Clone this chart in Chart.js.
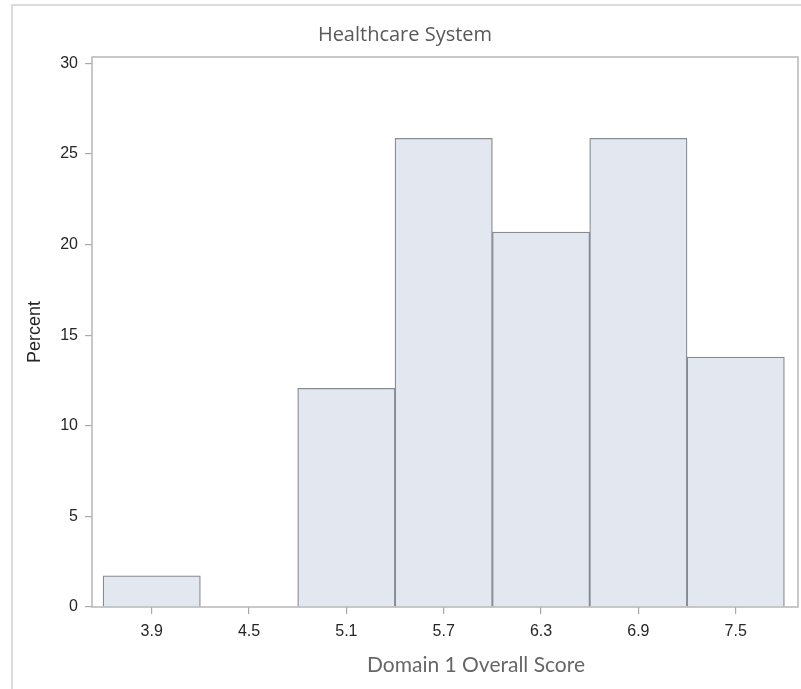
<!DOCTYPE html>
<html>
<head>
<meta charset="utf-8">
<script src="https://cdn.jsdelivr.net/npm/chart.js@4/dist/chart.umd.min.js"></script>
<style>
  html, body { margin: 0; padding: 0; background: #ffffff; }
  #wrap { position: relative; width: 801px; height: 689px; }
  #frame {
    position: absolute; left: 11px; top: 4px; right: 0; bottom: 0;
    border-top: 2px solid #dcdcdc; border-left: 2px solid #dcdcdc;
  }
  #chart { position: absolute; left: 0; top: 0; }
</style>
</head>
<body>
<div id="wrap">
  <div id="frame"></div>
  <canvas id="chart" width="801" height="689"></canvas>
</div>
<script>
// Histogram of Domain 1 overall scores: bin midpoints and percent of systems per bin
const binMids = [3.9, 4.5, 5.1, 5.7, 6.3, 6.9, 7.5];
const percents = [1.72, 0, 12.07, 25.86, 20.69, 25.86, 13.79];
const xTickValues = [3.9, 4.5, 5.1, 5.7, 6.3, 6.9, 7.5];
const yTickValues = [0, 5, 10, 15, 20, 25, 30];

const chartTitle = 'Healthcare System';
const xAxisTitle = 'Domain 1 Overall Score';
const yAxisTitle = 'Percent';

const points = binMids.map((m, i) => ({ x: m, y: percents[i] }));

// Box around the plot area plus the x-axis caption
const frameAndCaption = {
  id: 'frameAndCaption',
  afterDraw(chart) {
    const { ctx, chartArea: a } = chart;
    ctx.save();
    ctx.strokeStyle = '#b6b6b6';
    ctx.lineWidth = 1.5;
    ctx.strokeRect(a.left, a.top, a.right - a.left, a.bottom - a.top);
    ctx.fillStyle = '#666666';
    ctx.font = '21px Lato, "Open Sans", sans-serif';
    ctx.textAlign = 'center';
    ctx.textBaseline = 'alphabetic';
    ctx.fillText(xAxisTitle, 476, 672);
    ctx.restore();
  }
};

new Chart(document.getElementById('chart'), {
  type: 'bar',
  data: {
    datasets: [{
      data: points,
      backgroundColor: '#e3e7f0',
      borderColor: '#878b92',
      borderWidth: 1.3,
      categoryPercentage: 1,
      barPercentage: 1
    }]
  },
  options: {
    responsive: false,
    animation: false,
    devicePixelRatio: 1,
    layout: { padding: { left: 12, right: 3, top: 0, bottom: 0 } },
    plugins: {
      legend: { display: false },
      tooltip: { enabled: false },
      title: {
        display: true,
        text: chartTitle,
        color: '#595959',
        font: { family: '"Open Sans", "Noto Sans", sans-serif', size: 20, weight: 'normal' },
        padding: { top: 23.5, bottom: 9.5 }
      }
    },
    scales: {
      x: {
        type: 'linear',
        min: 3.532,
        max: 7.884,
        offset: false,
        afterBuildTicks: (s) => { s.ticks = xTickValues.map(v => ({ value: v })); },
        afterFit: (s) => { s.height = 82; },
        border: { display: false },
        grid: {
          offset: false,
          drawOnChartArea: false,
          drawTicks: true,
          tickLength: 7,
          color: '#a8a8a8',
          lineWidth: 1.2
        },
        ticks: {
          autoSkip: false,
          maxRotation: 0,
          padding: 8,
          color: '#262626',
          font: { family: '"Liberation Sans", Arial, sans-serif', size: 16 },
          callback: (v) => Number(v).toFixed(1)
        }
      },
      y: {
        type: 'linear',
        min: 0,
        max: 30.35,
        afterBuildTicks: (s) => { s.ticks = yTickValues.map(v => ({ value: v })); },
        afterFit: (s) => { s.width = 80; },
        border: { display: false },
        grid: {
          drawOnChartArea: false,
          drawTicks: true,
          tickLength: 7,
          color: '#a8a8a8',
          lineWidth: 1.2
        },
        ticks: {
          padding: 7,
          color: '#262626',
          font: { family: '"Liberation Sans", Arial, sans-serif', size: 16 },
          callback: (v) => String(v)
        },
        title: {
          display: true,
          text: yAxisTitle,
          color: '#262626',
          font: { family: '"Liberation Sans", Arial, sans-serif', size: 18 },
          padding: { top: 12, bottom: 0 }
        }
      }
    }
  },
  plugins: [frameAndCaption]
});
</script>
</body>
</html>
